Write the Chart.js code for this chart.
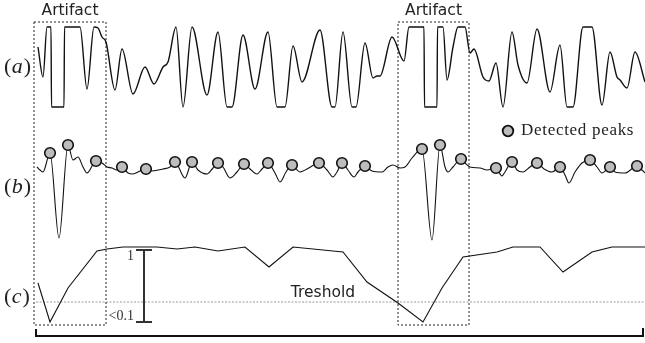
<!DOCTYPE html>
<html>
<head>
<meta charset="utf-8">
<script src="https://cdn.jsdelivr.net/npm/chart.js@4"></script>
<style>
  body { margin: 0; background: #fff; }
  canvas { display: block; }
</style>
</head>
<body>
<canvas id="grafico" width="645" height="343"></canvas>
<script>
// time axis runs 0..645, level axis 0..343 (top to bottom)
const sigAx = [38, 43, 47, 51, 51.5, 64, 64.5, 80, 87, 94, 98, 102, 106, 115, 122, 133, 145, 154, 163, 168, 176, 183, 192, 207, 218, 227, 232, 243, 255, 268, 277, 285, 293, 302, 320, 332, 335, 343, 352, 356, 365, 373, 377, 380, 392, 404, 409, 424, 424.5, 437, 437.5, 443, 447, 453, 458, 465, 470, 474, 483, 489, 496, 503, 512, 518, 527, 537, 550, 560, 567, 573, 583, 592, 602, 610, 617, 620, 627, 635, 645];
const sigAy = [47, 77, 27, 27, 107, 107, 27, 27, 89, 27, 28, 37, 42, 90, 49, 94, 67, 84, 67, 62, 27, 107, 27, 95, 32, 107, 107, 35, 89, 32, 107, 107, 46, 82, 30, 107, 107, 32, 107, 107, 43, 78, 76, 76, 37, 61, 27, 27, 107, 107, 27, 27, 80, 47, 27, 27, 53, 49, 77, 81, 63, 107, 32, 65, 83, 29, 92, 45, 107, 107, 27, 27, 105, 52, 77, 80, 88, 52, 82];

const sigBx = [37, 40, 43, 50, 59, 68, 73, 78, 83, 87, 96, 102, 107, 112, 117, 122, 128, 133, 140, 146, 152, 163, 170, 175, 185, 192, 198, 207, 213, 218, 223, 230, 237, 244, 250, 257, 262, 268, 275, 280, 286, 292, 300, 307, 319, 327, 333, 337, 342, 348, 354, 358, 365, 372, 382, 388, 393, 400, 405, 412, 422, 432, 440, 445, 448, 453, 461, 465, 470, 480, 487, 496, 502, 505, 512, 517, 523, 530, 537, 544, 552, 560, 565, 569, 575, 582, 590, 597, 602, 610, 615, 625, 637, 642, 645];
const sigBy = [167, 170, 172, 153, 238, 145, 160, 157, 167, 173, 161, 163, 167, 168, 170, 167, 173, 174, 171, 169, 171, 169, 167, 162, 178, 162, 170, 174, 168, 163, 167, 178, 172, 164, 169, 174, 169, 163, 173, 182, 172, 165, 172, 169, 163, 170, 177, 172, 163, 170, 177, 172, 166, 171, 172, 167, 165, 168, 167, 158, 149, 240, 145, 167, 172, 167, 159, 163, 167, 168, 170, 168, 176, 172, 162, 170, 172, 167, 163, 169, 172, 167, 175, 183, 172, 163, 160, 167, 173, 167, 172, 173, 166, 170, 173];

const peakX = [50, 68, 96, 122, 146, 175, 192, 218, 244, 268, 292, 319, 342, 365, 422, 440, 461, 496, 512, 537, 560, 590, 610, 637];
const peakY = [153, 145, 161, 167, 169, 162, 162, 163, 164, 163, 165, 163, 163, 166, 149, 145, 159, 168, 162, 163, 167, 160, 167, 166];

const sigCx = [38, 50, 68, 97, 107, 123, 157, 177, 195, 218, 245, 269, 293, 343, 367, 398, 423, 442, 463, 497, 513, 540, 563, 592, 612, 645];
const sigCy = [283, 322, 288, 251, 249, 247, 247, 249, 247, 251, 247, 267, 247, 252, 282, 303, 322, 288, 257, 252, 247, 247, 272, 252, 247, 247];

const tresholdLevel = 302;
const artifactStart = [34, 398];
const artifactEnd = [106, 469];

function pts(xs, ys) {
  return xs.map(function(x, i) { return { x: x, y: ys[i] }; });
}

function boxPath(x1, x2) {
  return [{x: x1, y: 22}, {x: x2, y: 22}, {x: x2, y: 325}, {x: x1, y: 325}, {x: x1, y: 22}];
}

const artifactSets = artifactStart.map(function(s, i) {
  return {
    data: boxPath(s, artifactEnd[i]),
    borderColor: '#222', borderWidth: 1, borderDash: [2, 2],
    pointRadius: 0, tension: 0, order: 5
  };
});

const labelsPlugin = {
  id: 'textos',
  afterDraw: function(chart) {
    const ctx = chart.ctx;
    const sx = chart.scales.x, sy = chart.scales.y;
    const px = function(v) { return sx.getPixelForValue(v); };
    const py = function(v) { return sy.getPixelForValue(v); };
    ctx.save();
    ctx.fillStyle = '#222';
    ctx.textBaseline = 'middle';

    // Artifact labels
    ctx.font = '15.5px "DejaVu Sans"';
    ctx.textAlign = 'center';
    artifactStart.forEach(function(s, i) {
      ctx.fillText('Artifact', px((s + artifactEnd[i]) / 2), py(11));
    });
    ctx.fillText('Treshold', px(323), py(293));

    // panel letters
    [['a', 67], ['b', 187], ['c', 297]].forEach(function(p) {
      const y = py(p[1]);
      ctx.textAlign = 'left';
      ctx.font = '22px "Liberation Serif"';
      let x = 4;
      ctx.fillText('(', x, y);
      x += ctx.measureText('(').width + 0.5;
      ctx.font = 'italic 22px "Liberation Serif"';
      ctx.fillText(p[0], x, y);
      x += ctx.measureText(p[0]).width + 1;
      ctx.font = '22px "Liberation Serif"';
      ctx.fillText(')', x, y);
    });

    // legend text
    ctx.font = '17px "Liberation Serif"';
    ctx.letterSpacing = '0.7px';
    ctx.textAlign = 'left';
    ctx.fillText('Detected peaks', px(521), py(131));
    ctx.letterSpacing = '0px';

    // scale bar labels
    ctx.fillStyle = '#333';
    ctx.font = '14px "Liberation Serif"';
    ctx.textAlign = 'right';
    ctx.fillText('1', px(134), py(256));
    ctx.fillText('<0.1', px(134), py(316));
    ctx.restore();
  }
};

const config = {
  type: 'line',
  data: {
    datasets: [
      {
        data: pts(peakX, peakY), showLine: false,
        pointRadius: 5.3, pointBackgroundColor: '#bdbdbd',
        pointBorderColor: '#111', pointBorderWidth: 1.6, order: 0
      },
      {
        data: [{x: 508, y: 131}], showLine: false,
        pointRadius: 5.3, pointBackgroundColor: '#bdbdbd',
        pointBorderColor: '#111', pointBorderWidth: 1.8, order: 0
      },
      {
        data: pts(sigAx, sigAy), borderColor: '#111', borderWidth: 1.4,
        pointRadius: 0, cubicInterpolationMode: 'monotone', order: 1
      },
      {
        data: pts(sigBx, sigBy), borderColor: '#111', borderWidth: 1.1,
        pointRadius: 0, cubicInterpolationMode: 'monotone', order: 1
      },
      {
        data: pts(sigCx, sigCy), borderColor: '#111', borderWidth: 1.1,
        pointRadius: 0, tension: 0, order: 1
      },
      {
        data: [{x: 36, y: tresholdLevel}, {x: 645, y: tresholdLevel}],
        borderColor: '#999', borderWidth: 1, borderDash: [2, 1.5],
        pointRadius: 0, order: 6
      },
      {
        // scale bar 1 .. <0.1
        data: [{x: 136, y: 250}, {x: 152, y: 250}, {x: 144, y: null},
               {x: 144, y: 250}, {x: 144, y: 322}, {x: 144, y: null},
               {x: 136, y: 322}, {x: 152, y: 322}],
        borderColor: '#333', borderWidth: 2, pointRadius: 0, spanGaps: false, order: 2
      },
      {
        // bracket under the whole record
        data: [{x: 36, y: 329}, {x: 36, y: 336}, {x: 643, y: 336}, {x: 643, y: 328}],
        borderColor: '#111', borderWidth: 2, pointRadius: 0, order: 2
      }
    ].concat(artifactSets)
  },
  options: {
    responsive: false,
    animation: false,
    layout: { padding: 0, autoPadding: false },
    plugins: {
      legend: { display: false },
      tooltip: { enabled: false }
    },
    scales: {
      x: { type: 'linear', min: 0, max: 645, display: false },
      y: { type: 'linear', min: 0, max: 343, reverse: true, display: false }
    }
  },
  plugins: [labelsPlugin]
};

const grafico = new Chart(document.getElementById('grafico'), config);
</script>
</body>
</html>
